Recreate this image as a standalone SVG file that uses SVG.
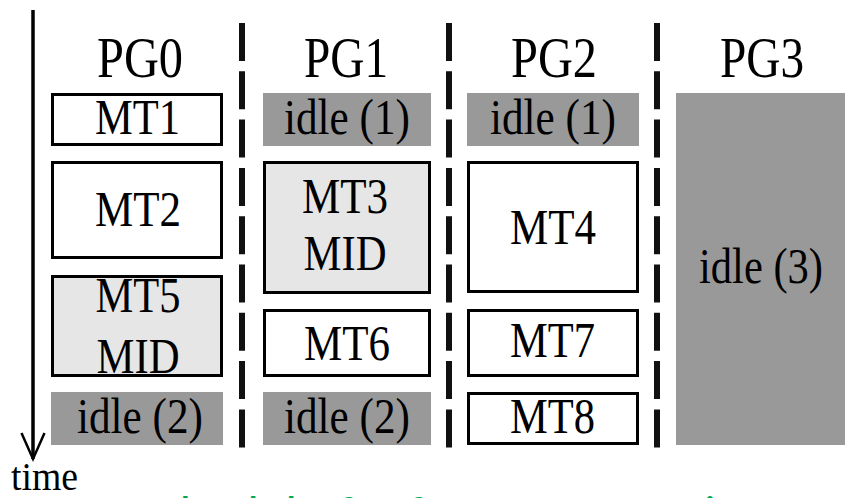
<svg xmlns="http://www.w3.org/2000/svg" width="845" height="498" viewBox="0 0 845 498">
  <style>
    .lbl { font-family: "Liberation Serif", "Times New Roman", serif; font-size: 50px; fill: #000; text-anchor: middle; }
    .hdr { font-family: "Liberation Serif", "Times New Roman", serif; font-size: 56px; fill: #000; text-anchor: middle; }
    .task { fill: #fff; stroke: #000; stroke-width: 3; }
    .mid { fill: #e6e6e6; stroke: #000; stroke-width: 3; }
    .idle { fill: #999; }
    .sep { stroke: #111; stroke-width: 6; stroke-dasharray: 38 10.3; fill: none; }
    .note { font-family: "Lato", "Carlito", "Liberation Sans", sans-serif; font-size: 48px; fill: #00a850; }
  </style>

  <!-- caption fragments in green -->
  <text class="note" x="570" y="-9">g</text>
  <text class="note" y="532"><tspan x="136">schedule</tspan><tspan x="336">for</tspan><tspan x="406">fastest</tspan><tspan x="563">execution</tspan></text>

  <!-- processor group headers -->
  <g id="headers">
    <text class="hdr" x="140" y="77" textLength="86" lengthAdjust="spacingAndGlyphs">PG0</text>
    <text class="hdr" x="346" y="77" textLength="84" lengthAdjust="spacingAndGlyphs">PG1</text>
    <text class="hdr" x="554" y="77" textLength="86" lengthAdjust="spacingAndGlyphs">PG2</text>
    <text class="hdr" x="762" y="77" textLength="84" lengthAdjust="spacingAndGlyphs">PG3</text>
  </g>

  <!-- column separators -->
  <g id="separators">
    <line class="sep" x1="242" y1="23" x2="242" y2="448"/>
    <line class="sep" x1="449" y1="23" x2="449" y2="448"/>
    <line class="sep" x1="657" y1="23" x2="657" y2="448"/>
  </g>

  <!-- PG0 -->
  <g id="pg0-mt1">
    <rect class="task" x="52.5" y="94.5" width="169" height="50"/>
    <text class="lbl" x="137.5" y="134" textLength="85" lengthAdjust="spacingAndGlyphs">MT1</text>
  </g>
  <g id="pg0-mt2">
    <rect class="task" x="52.5" y="162.5" width="169" height="95"/>
    <text class="lbl" x="138" y="226" textLength="86" lengthAdjust="spacingAndGlyphs">MT2</text>
  </g>
  <g id="pg0-mt5">
    <rect class="mid" x="52.5" y="276.5" width="169" height="99"/>
    <text class="lbl" x="138" y="312" textLength="85" lengthAdjust="spacingAndGlyphs">MT5</text>
    <text class="lbl" x="138" y="373" textLength="83" lengthAdjust="spacingAndGlyphs">MID</text>
  </g>
  <g id="pg0-idle2">
    <rect class="idle" x="51" y="392" width="172" height="53"/>
    <text class="lbl" x="140" y="433" textLength="126" lengthAdjust="spacingAndGlyphs">idle (2)</text>
  </g>

  <!-- PG1 -->
  <g id="pg1-idle1">
    <rect class="idle" x="263" y="93" width="168" height="53"/>
    <text class="lbl" x="347" y="134" textLength="126" lengthAdjust="spacingAndGlyphs">idle (1)</text>
  </g>
  <g id="pg1-mt3">
    <rect class="mid" x="264.5" y="162.5" width="165" height="130"/>
    <text class="lbl" x="345" y="213" textLength="86" lengthAdjust="spacingAndGlyphs">MT3</text>
    <text class="lbl" x="345" y="270" textLength="83" lengthAdjust="spacingAndGlyphs">MID</text>
  </g>
  <g id="pg1-mt6">
    <rect class="task" x="264.5" y="310.5" width="165" height="65"/>
    <text class="lbl" x="347" y="359.5" textLength="86" lengthAdjust="spacingAndGlyphs">MT6</text>
  </g>
  <g id="pg1-idle2">
    <rect class="idle" x="263" y="392" width="168" height="53"/>
    <text class="lbl" x="347" y="433" textLength="126" lengthAdjust="spacingAndGlyphs">idle (2)</text>
  </g>

  <!-- PG2 -->
  <g id="pg2-idle1">
    <rect class="idle" x="467" y="93" width="172" height="53"/>
    <text class="lbl" x="553" y="134" textLength="126" lengthAdjust="spacingAndGlyphs">idle (1)</text>
  </g>
  <g id="pg2-mt4">
    <rect class="task" x="468.5" y="162.5" width="169" height="129"/>
    <text class="lbl" x="553" y="243.5" textLength="86" lengthAdjust="spacingAndGlyphs">MT4</text>
  </g>
  <g id="pg2-mt7">
    <rect class="task" x="468.5" y="310.5" width="169" height="65"/>
    <text class="lbl" x="552.5" y="357" textLength="85" lengthAdjust="spacingAndGlyphs">MT7</text>
  </g>
  <g id="pg2-mt8">
    <rect class="task" x="468.5" y="393.5" width="169" height="50"/>
    <text class="lbl" x="552.5" y="433" textLength="85" lengthAdjust="spacingAndGlyphs">MT8</text>
  </g>

  <!-- PG3 -->
  <g id="pg3-idle3">
    <rect class="idle" x="676" y="93" width="169" height="352"/>
    <text class="lbl" x="761" y="283" textLength="124" lengthAdjust="spacingAndGlyphs">idle (3)</text>
  </g>

  <!-- time axis -->
  <g id="connectors">
    <line x1="33" y1="10" x2="33" y2="459" stroke="#000" stroke-width="3.5"/>
    <polyline points="21.5,433 33,459 44.5,433" fill="none" stroke="#000" stroke-width="2.5"/>
  </g>
  <text x="44.5" y="490" font-family="Liberation Serif, Times New Roman, serif" font-size="40" text-anchor="middle" textLength="67" lengthAdjust="spacingAndGlyphs">time</text>
</svg>
